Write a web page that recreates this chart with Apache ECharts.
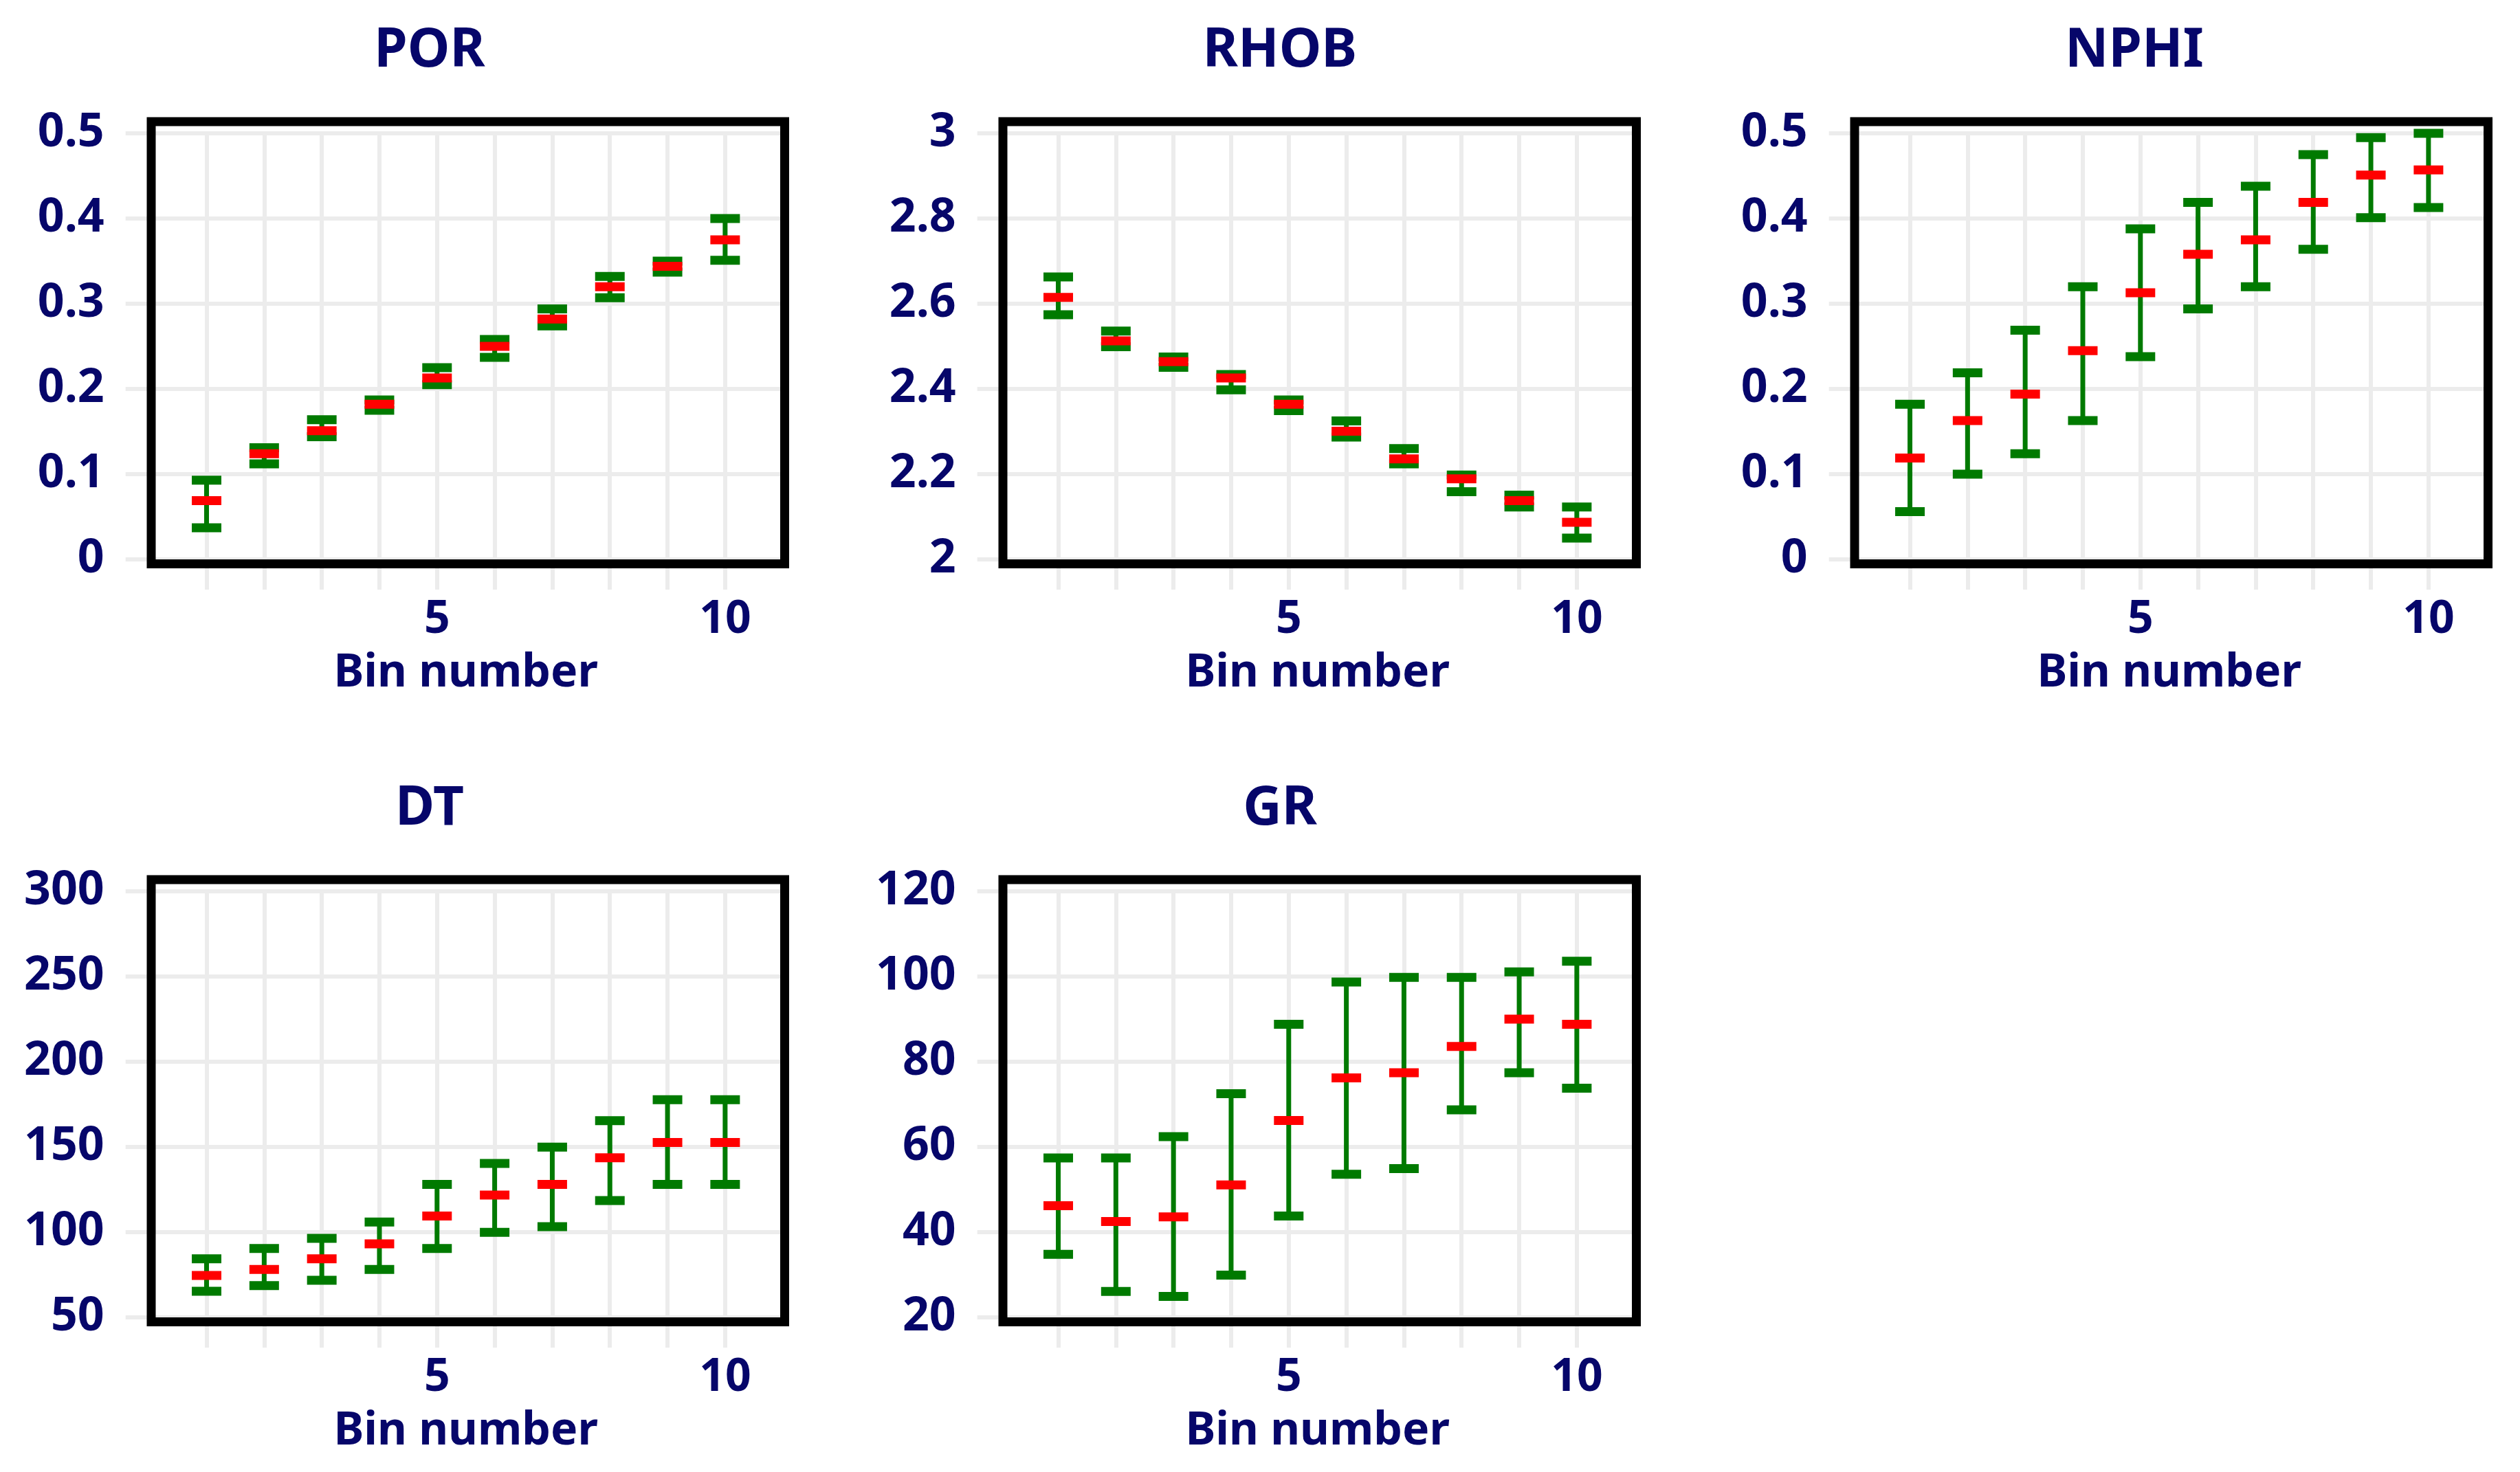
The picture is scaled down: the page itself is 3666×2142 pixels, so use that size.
<!DOCTYPE html>
<html>
<head>
<meta charset="utf-8">
<script src="https://cdn.jsdelivr.net/npm/echarts@6/dist/echarts.min.js"></script>
<style>
html,body{margin:0;padding:0;background:#fff;}
#c{width:3666px;height:2142px;}
</style>
</head>
<body>
<div id="c"></div>
<script>
// ---------- data ----------
const bins = [1, 2, 3, 4, 5, 6, 7, 8, 9, 10];

const porMean = [0.069, 0.124, 0.151, 0.182, 0.213, 0.250, 0.282, 0.320, 0.344, 0.375];
const porLow  = [0.037, 0.112, 0.144, 0.175, 0.205, 0.237, 0.274, 0.307, 0.337, 0.351];
const porHigh = [0.093, 0.131, 0.164, 0.187, 0.225, 0.258, 0.294, 0.332, 0.350, 0.400];

const rhobMean = [2.615, 2.513, 2.464, 2.426, 2.364, 2.301, 2.236, 2.189, 2.138, 2.087];
const rhobLow  = [2.574, 2.499, 2.451, 2.398, 2.349, 2.287, 2.224, 2.159, 2.123, 2.050];
const rhobHigh = [2.663, 2.536, 2.475, 2.434, 2.374, 2.325, 2.260, 2.198, 2.151, 2.123];

const nphiMean = [0.119, 0.163, 0.194, 0.245, 0.313, 0.358, 0.375, 0.419, 0.451, 0.457];
const nphiLow  = [0.056, 0.100, 0.124, 0.163, 0.238, 0.294, 0.320, 0.364, 0.401, 0.413];
const nphiHigh = [0.182, 0.219, 0.269, 0.320, 0.388, 0.419, 0.438, 0.475, 0.495, 0.500];

const dtMean = [74.6, 78.1, 84.4, 93.1, 109.5, 121.8, 128.0, 143.6, 152.6, 152.6];
const dtLow  = [65.3, 68.6, 71.8, 78.1, 90.4, 99.9, 103.2, 118.5, 128.0, 128.0];
const dtHigh = [84.4, 90.4, 96.4, 105.9, 128.0, 140.3, 149.9, 165.4, 177.7, 177.7];

const grMean = [46.2, 42.5, 43.6, 51.1, 66.2, 76.2, 77.4, 83.6, 90.0, 88.8];
const grLow  = [34.8, 26.1, 24.9, 29.9, 43.8, 53.6, 54.9, 68.7, 77.4, 73.8];
const grHigh = [57.4, 57.4, 62.4, 72.5, 88.8, 98.7, 99.8, 99.8, 101.1, 103.6];

const panelTitles = ['POR', 'RHOB', 'NPHI', 'DT', 'GR'];
const xName = 'Bin number';
const xTickLabels = [5, 10];

// ---------- styling ----------
const NAVY = '#06066a';
const GREEN = '#007a00';
const RED = '#ff0000';
const GRIDC = '#ececec';
const FONT = '"Noto Sans", "DejaVu Sans", sans-serif';

const panels = [
  { title: panelTitles[0], mean: porMean,  low: porLow,  high: porHigh,  min: 0,  max: 0.5, interval: 0.1, col: 0, row: 0 },
  { title: panelTitles[1], mean: rhobMean, low: rhobLow, high: rhobHigh, min: 2,  max: 3,   interval: 0.2, col: 1, row: 0 },
  { title: panelTitles[2], mean: nphiMean, low: nphiLow, high: nphiHigh, min: 0,  max: 0.5, interval: 0.1, col: 2, row: 0 },
  { title: panelTitles[3], mean: dtMean,   low: dtLow,   high: dtHigh,   min: 50, max: 300, interval: 50,  col: 0, row: 1 },
  { title: panelTitles[4], mean: grMean,   low: grLow,   high: grHigh,   min: 20, max: 120, interval: 20,  col: 1, row: 1 }
];

// layout
const colLeft = [216.7, 1455.7, 2694.7];
const gridW = 922;
const rowTop = [194, 1297];
const gridH = 620;
const titleX = [625, 1862, 3105];
const titleY = [75, 1178];

function renderErr(params, api) {
  const x = api.value(0), lo = api.value(1), hi = api.value(2), m = api.value(3);
  const pLo = api.coord([x, lo]);
  const pHi = api.coord([x, hi]);
  const pM = api.coord([x, m]);
  const cw = 43, ct = 13, lw = 7;
  return {
    type: 'group',
    children: [
      { type: 'line', shape: { x1: pHi[0], y1: pHi[1], x2: pLo[0], y2: pLo[1] }, style: { stroke: GREEN, lineWidth: lw } },
      { type: 'rect', shape: { x: pHi[0] - cw / 2, y: pHi[1] - ct / 2, width: cw, height: ct }, style: { fill: GREEN } },
      { type: 'rect', shape: { x: pLo[0] - cw / 2, y: pLo[1] - ct / 2, width: cw, height: ct }, style: { fill: GREEN } },
      { type: 'rect', shape: { x: pM[0] - cw / 2, y: pM[1] - ct / 2, width: cw, height: ct }, style: { fill: RED } }
    ]
  };
}

const grid = [], xAxis = [], yAxis = [], series = [], graphic = [];

panels.forEach((p, i) => {
  const left = colLeft[p.col], top = rowTop[p.row];
  // data grid
  grid.push({ left: left, top: top, width: gridW, height: gridH, show: false });
  // frame grid (the black box)
  grid.push({ left: left + 3.3, top: top - 17, width: 921.5, height: gridH + 23.5, show: true,
              borderColor: '#000', borderWidth: 13, backgroundColor: 'transparent', z: 1 });
  const gi = i * 2;
  xAxis.push({
    gridIndex: gi, type: 'value', min: 0, max: 11, interval: 1,
    axisLine: { show: false },
    axisTick: { show: true, length: 44, customValues: bins, lineStyle: { color: GRIDC, width: 6 } },
    splitLine: { show: true, lineStyle: { color: GRIDC, width: 6 } },
    axisLabel: { show: true, customValues: xTickLabels, margin: 55, color: NAVY, fontFamily: FONT, fontWeight: 'bold', fontSize: 66 },
    name: xName, nameLocation: 'middle', nameGap: 133,
    nameTextStyle: { color: NAVY, fontFamily: FONT, fontWeight: 'bold', fontSize: 66 }
  });
  yAxis.push({
    gridIndex: gi, type: 'value', min: p.min, max: p.max, interval: p.interval,
    axisLine: { show: false },
    axisTick: { show: true, length: 34, lineStyle: { color: GRIDC, width: 6 } },
    splitLine: { show: true, lineStyle: { color: GRIDC, width: 6 } },
    axisLabel: { margin: 65, color: NAVY, fontFamily: FONT, fontWeight: 'bold', fontSize: 68 }
  });
  // hidden axes for frame grid
  xAxis.push({ gridIndex: gi + 1, type: 'value', show: false, min: 0, max: 1 });
  yAxis.push({ gridIndex: gi + 1, type: 'value', show: false, min: 0, max: 1 });

  series.push({
    type: 'custom', xAxisIndex: i * 2, yAxisIndex: i * 2, z: 3,
    renderItem: renderErr,
    data: bins.map((b, k) => [b, p.low[k], p.high[k], p.mean[k]])
  });

  graphic.push({
    type: 'text', x: titleX[p.col], y: titleY[p.row], z: 10,
    style: { text: p.title, fill: NAVY, font: 'bold 78px ' + FONT, textAlign: 'center', textVerticalAlign: 'middle' }
  });
});

const chart = echarts.init(document.getElementById('c'), null, { renderer: 'canvas' });
chart.setOption({
  backgroundColor: '#fff',
  animation: false,
  grid: grid,
  xAxis: xAxis,
  yAxis: yAxis,
  series: series,
  graphic: graphic
});
</script>
</body>
</html>
